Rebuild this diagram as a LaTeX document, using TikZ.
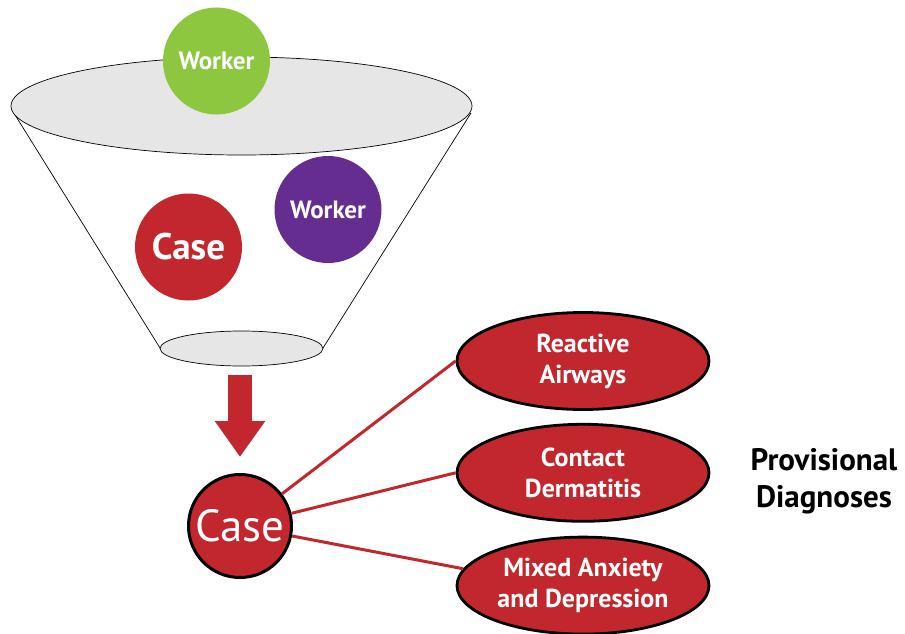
\documentclass[tikz,border=0pt]{standalone}
\usepackage{fontspec}
\setmainfont{PT Sans}
\usetikzlibrary{shapes.geometric, arrows.meta, positioning}
\definecolor{casered}{HTML}{C1272D}
\definecolor{workergreen}{HTML}{8DC63F}
\definecolor{workerpurple}{HTML}{662D91}
\definecolor{funnelgray}{HTML}{E6E6E6}

\begin{document}
\begin{tikzpicture}[
    x=1pt, y=-1pt,
    ball/.style={circle, minimum size=107pt, inner sep=0pt, text=white, font=\bfseries\fontsize{25}{28}\selectfont},
    dx/.style={ellipse, draw=black, line width=2.8pt, fill=casered, minimum width=252pt, minimum height=97pt, inner sep=0pt, align=center, text=white, font=\bfseries\fontsize{26}{31}\selectfont},
    link/.style={casered, line width=3pt},
    rim/.style={draw=black, line width=0.7pt, fill=funnelgray}
]
    \useasboundingbox (0,0) rectangle (905,634);

    % funnel
    \draw[line width=0.7pt] (12,110) -- (160,348);
    \draw[line width=0.7pt] (471,113) -- (323,348);
    \draw[rim] (241.5,106) ellipse [x radius=230.5pt, y radius=49pt];
    \draw[rim] (241.5,348.5) ellipse [x radius=81.5pt, y radius=17.5pt];

    \node[ball, fill=workergreen] (worker1) at (216.5,61) {Worker};
    \node[ball, fill=workerpurple] (worker2) at (328,209.5) {Worker};
    \node[ball, fill=casered, font=\bfseries\fontsize{37}{40}\selectfont] (case1) at (188.5,247) {Case};

    \coordinate (arrtop) at (240,375);
    \coordinate (arrtip) at (240,457);
    \draw[casered, line width=24pt, -{Triangle[length=36pt, width=48pt]}] (arrtop) -- (arrtip);

    \node[circle, draw=black, line width=3pt, fill=casered, minimum size=103pt, inner sep=0pt, text=white, font=\fontsize{45}{48}\selectfont] (case2) at (240,526) {Case};

    \node[dx] (airways) at (583,361) {Reactive\\Airways};
    \node[dx, below=12pt of airways] (dermatitis) {Contact\\Dermatitis};
    \node[dx, below=13pt of dermatitis] (anxiety) {Mixed Anxiety\\and Depression};

    \draw[link] (case2) -- (airways.west);
    \draw[link] (case2) -- (dermatitis.west);
    \draw[link] (case2) -- (anxiety.172);

    \node[font=\bfseries\fontsize{31}{37}\selectfont, align=center] (label) at (824,481) {Provisional\\Diagnoses};
\end{tikzpicture}
\end{document}
